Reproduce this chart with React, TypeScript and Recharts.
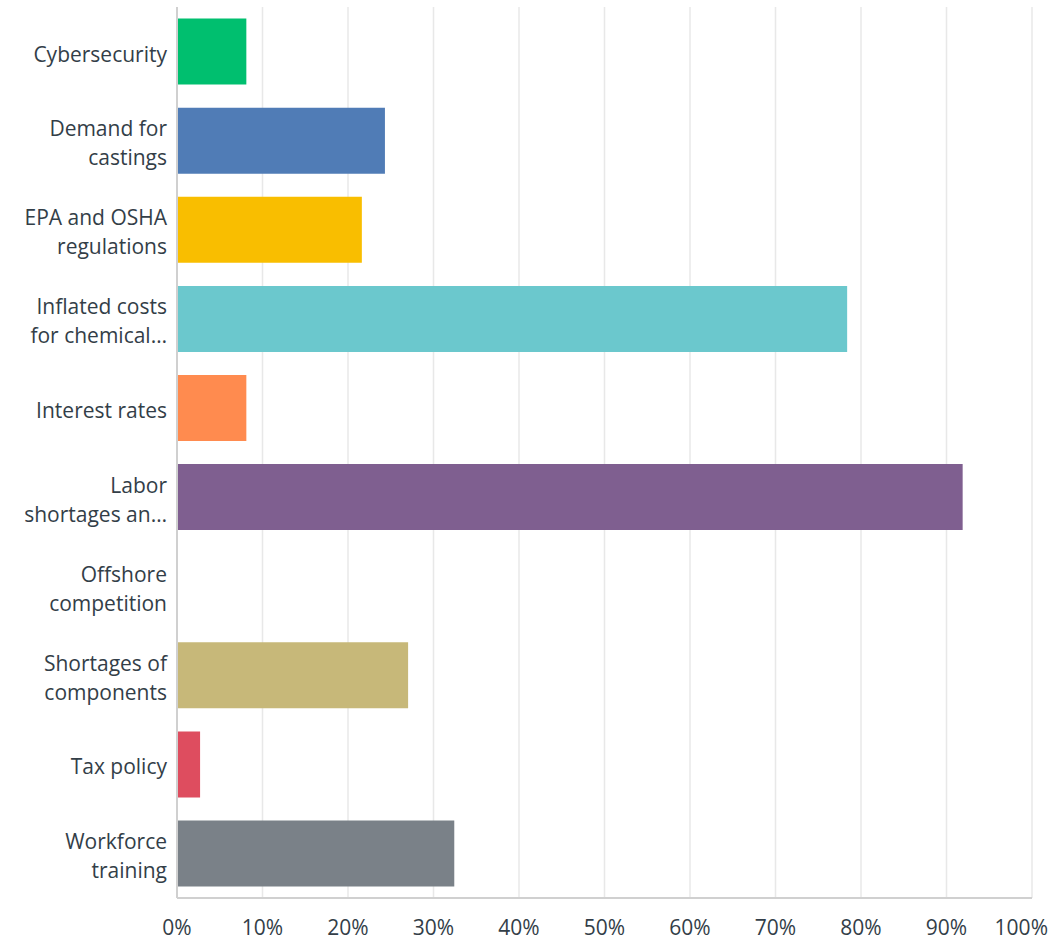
import React from "react";
import { BarChart, Bar, XAxis, YAxis, CartesianGrid, Cell } from "recharts";

const categories = [
  "Cybersecurity",
  "Demand for castings",
  "EPA and OSHA regulations",
  "Inflated costs for chemicals",
  "Interest rates",
  "Labor shortages and",
  "Offshore competition",
  "Shortages of components",
  "Tax policy",
  "Workforce training",
];

const tickLabels = [
  "Cybersecurity",
  "Demand for\ncastings",
  "EPA and OSHA\nregulations",
  "Inflated costs\nfor chemical…",
  "Interest rates",
  "Labor\nshortages an…",
  "Offshore\ncompetition",
  "Shortages of\ncomponents",
  "Tax policy",
  "Workforce\ntraining",
];

const values = [8.11, 24.32, 21.62, 78.38, 8.11, 91.89, 0, 27.03, 2.7, 32.43];

const colors = [
  "#00bf6f",
  "#507cb6",
  "#f9be00",
  "#6bc8cd",
  "#ff8b4f",
  "#7f5f90",
  "#d25f90",
  "#c7b879",
  "#de4d5f",
  "#7a8188",
];

const xTicks = [0, 10, 20, 30, 40, 50, 60, 70, 80, 90, 100];

const data = categories.map((name, i) => ({
  name,
  label: tickLabels[i],
  value: values[i],
}));

const FONT = "'Open Sans', sans-serif";
const TEXT = "#333e48";

const YTick = (props: any) => {
  const { x, y, payload } = props;
  const idx = categories.indexOf(payload.value);
  const lines = (idx >= 0 ? tickLabels[idx] : String(payload.value)).split("\n");
  const lh = 29;
  return (
    <g>
      {lines.map((ln, i) => (
        <text
          key={i}
          x={x}
          y={y + (i - (lines.length - 1) / 2) * lh + 2}
          textAnchor="end"
          dominantBaseline="central"
          fontFamily={FONT}
          fontSize={21}
          fill={TEXT}
        >
          {ln}
        </text>
      ))}
    </g>
  );
};

const XTick = (props: any) => {
  const { x, y, payload } = props;
  const last = payload.value === xTicks[xTicks.length - 1];
  return (
    <text
      x={last ? x + 16 : x}
      y={y + 27}
      textAnchor={last ? "end" : "middle"}
      dominantBaseline="central"
      fontFamily={FONT}
      fontSize={21}
      fill={TEXT}
    >
      {payload.value + "%"}
    </text>
  );
};

export default function App() {
  return (
    <div style={{ position: "absolute", left: 0, top: 0, width: 1052, height: 941, background: "#fff" }}>
      <BarChart
        width={1052}
        height={941}
        data={data}
        layout="vertical"
        margin={{ top: 7, right: 20, bottom: 0, left: 0 }}
        barCategoryGap="13%"
      >
        <CartesianGrid horizontal={false} stroke="#e8e8e8" strokeWidth={1.5} />
        <XAxis
          type="number"
          domain={[0, 100]}
          ticks={xTicks}
          height={43}
          axisLine={{ stroke: "#d0d0d0", strokeWidth: 2 }}
          tickLine={false}
          tickSize={0}
          tick={<XTick />}
          interval={0}
        />
        <YAxis
          type="category"
          dataKey="name"
          width={177}
          axisLine={{ stroke: "#d0d0d0", strokeWidth: 2 }}
          tickLine={false}
          tickSize={0}
          tickMargin={10}
          tick={<YTick />}
          interval={0}
        />
        <Bar dataKey="value" isAnimationActive={false}>
          {data.map((d, i) => (
            <Cell key={d.name} fill={colors[i]} />
          ))}
        </Bar>
      </BarChart>
    </div>
  );
}
